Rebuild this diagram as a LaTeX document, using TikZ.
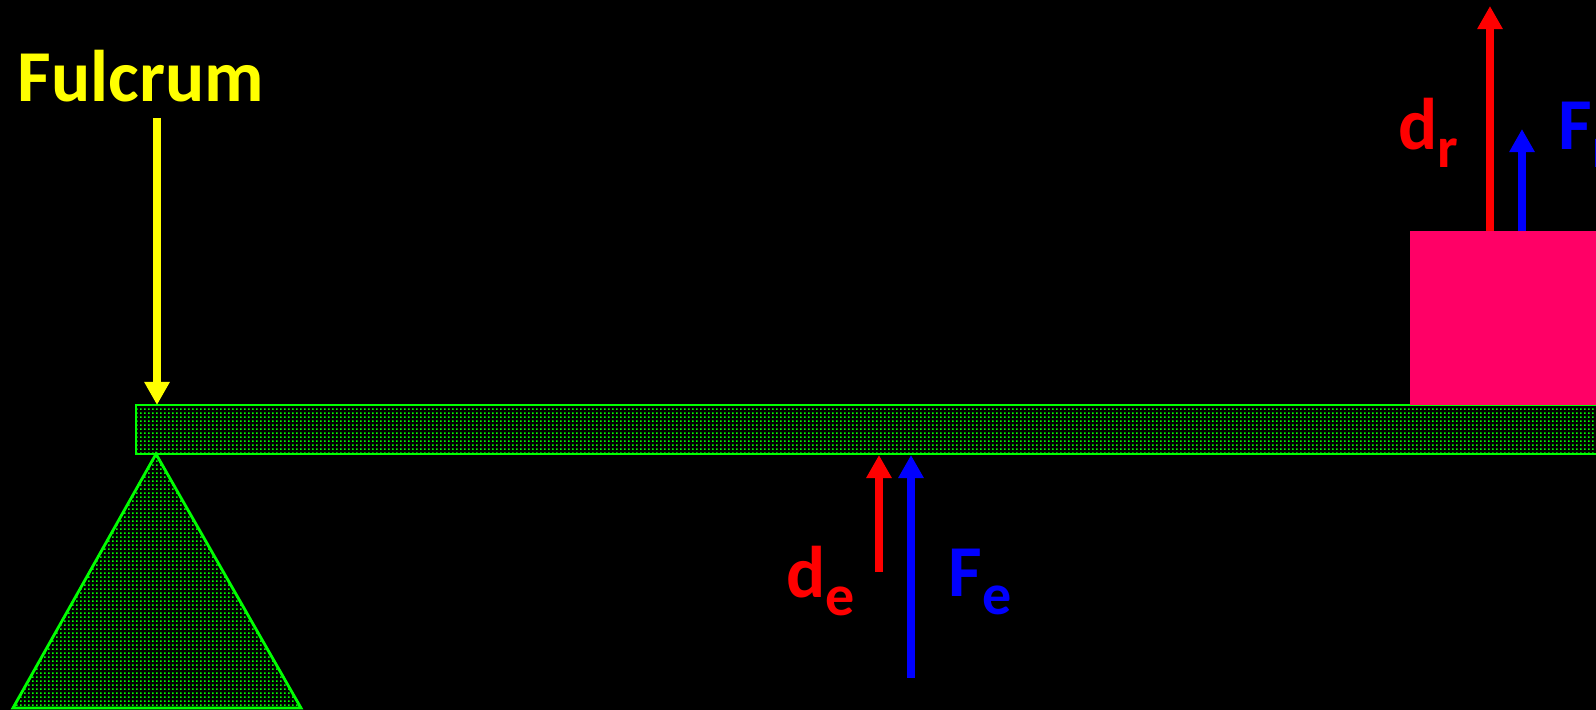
\documentclass[tikz,border=0pt]{standalone}
\usepackage{fontspec}
\setmainfont{Carlito}
\usepackage{tikz}
\usetikzlibrary{arrows.meta,patterns}
\definecolor{leverred}{HTML}{FF0000}
\definecolor{leverblue}{HTML}{0000FF}
\definecolor{leveryellow}{HTML}{FFFF00}
\definecolor{levergreen}{HTML}{00FF00}
\definecolor{loadpink}{HTML}{FF0066}
\pgfdeclarepatternformonly{lever dots}{\pgfpointorigin}{\pgfqpoint{1.14pt}{1.14pt}}{\pgfqpoint{1.14pt}{1.14pt}}{%
  \pgfpathrectangle{\pgfpointorigin}{\pgfqpoint{0.57pt}{0.57pt}}\pgfusepath{fill}}
\newcommand{\sublbl}[2]{#1\raisebox{-5.1pt}{\fontsize{16.5}{18}\selectfont #2}}

\begin{document}
\begin{tikzpicture}[x=0.01cm,y=-0.01cm,
    lbl/.style={inner sep=0pt,anchor=base west,font=\fontsize{20.8}{24}\selectfont\bfseries},
    vec/.style={line width=0.08cm,-{Triangle[width=0.24cm,length=0.23cm]}},
    lever/.style={draw=levergreen,line width=0.8pt,pattern=lever dots,pattern color=levergreen}]
  \fill[black] (0,0) rectangle (1596,710);
  \clip (0,0) rectangle (1596,710);

  \draw[lever] (136,405) rectangle (1620,454);
  \draw[lever] (156,454) -- (13,708) -- (301,708) -- cycle;
  \fill[loadpink] (1410,231) rectangle (1620,405);

  \node[lbl,text=leveryellow,font=\fontsize{20.8}{24}\selectfont\bfseries] (fulcrum) at (17,102) {Fulcrum};
  \node[lbl,text=leverred] (dlbl) at (786,598) {\sublbl{d}{e}};
  \node[lbl,text=leverblue] (flbl) at (948,597) {\sublbl{F}{e}};
  \node[lbl,text=leverred] (drlbl) at (1398,150) {\sublbl{d}{r}};
  \node[lbl,text=leverblue] (frlbl) at (1558,150) {\sublbl{F}{r}};

  \coordinate (ftail) at (157,118);
  \coordinate (pivot) at (157,405);
  \coordinate (detail) at (879,572);
  \coordinate (dehead) at (879,455);
  \coordinate (fetail) at (911,678);
  \coordinate (fehead) at (911,455);
  \coordinate (drtail) at (1490,231);
  \coordinate (drhead) at (1490,6);
  \coordinate (frtail) at (1522,231);
  \coordinate (frhead) at (1522,129);

  \draw[vec,leveryellow] (ftail) -- (pivot);
  \draw[vec,leverred] (detail) -- (dehead);
  \draw[vec,leverblue] (fetail) -- (fehead);
  \draw[vec,leverred] (drtail) -- (drhead);
  \draw[vec,leverblue] (frtail) -- (frhead);
\end{tikzpicture}
\end{document}
